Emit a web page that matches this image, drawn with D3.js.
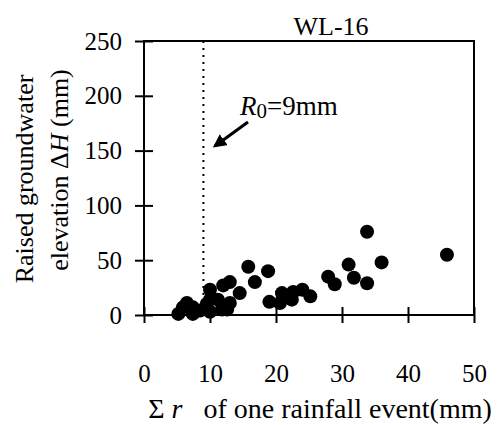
<!DOCTYPE html>
<html>
<head>
<meta charset="utf-8">
<script src="https://cdn.jsdelivr.net/npm/d3@7"></script>
<style>
  body { margin: 0; background: #fff; }
  svg { display: block; }
  text { font-family: "Liberation Serif", "Times New Roman", serif; fill: #000; }
  .axis .domain { display: none; }
  .axis line { stroke: #000; stroke-width: 2; }
</style>
</head>
<body>
<div class="chart"></div>
<script>
// event rainfall sum (mm) and groundwater rise (mm)
var rainSum = [5.2, 5.9, 6.5, 7.4, 7.4, 8.5, 9.5, 10, 10, 10, 11.2, 11.8, 12, 12.6, 13, 13, 14.5,
               15.8, 16.8, 18.8, 19, 20.6, 20.9, 22.4, 22.6, 24, 25.2, 27.9, 28.9, 31, 31.8,
               33.8, 33.8, 36, 45.9];
var riseH   = [1, 7, 11, 7, 1, 4, 10, 23, 14, 3, 14, 5, 27, 5, 30, 11, 20,
               44, 30, 40, 12, 11, 20, 14, 21, 23, 17, 35, 28, 46, 34,
               76, 29, 48, 55];
var xTicks = [0, 10, 20, 30, 40, 50];
var yTicks = [0, 50, 100, 150, 200, 250];
var thresholdR0 = 9;

var serif = "'Liberation Serif', 'Times New Roman', serif";

var margin = {top: 41, right: 23, bottom: 110, left: 144},
    width = 497 - margin.left - margin.right,
    height = 425 - margin.top - margin.bottom;

var svg = d3.select(".chart").append("svg")
    .attr("width", 497)
    .attr("height", 425);

var g = svg.append("g")
    .attr("transform", "translate(" + margin.left + "," + margin.top + ")");

var x = d3.scaleLinear().domain([0, 50]).range([0, width]);
var y = d3.scaleLinear().domain([0, 250]).range([height, 0]);

// frame
g.append("rect")
    .attr("width", width)
    .attr("height", height)
    .attr("fill", "none")
    .attr("stroke", "#000")
    .attr("stroke-width", 2);

// ticks cross the axis line on both sides
var xAxis = g.append("g")
    .attr("class", "axis")
    .attr("transform", "translate(0," + height + ")")
    .call(d3.axisBottom(x).tickValues(xTicks).tickSize(8).tickPadding(41))
    .attr("font-family", serif)
    .attr("font-size", 25);
xAxis.selectAll(".tick line").attr("y1", -8);

var yAxis = g.append("g")
    .attr("class", "axis")
    .call(d3.axisLeft(y).tickValues(yTicks).tickSize(9).tickPadding(13))
    .attr("font-family", serif)
    .attr("font-size", 25);
yAxis.selectAll(".tick line").attr("x1", 9);

// R0 threshold
g.append("line")
    .attr("x1", x(thresholdR0)).attr("x2", x(thresholdR0))
    .attr("y1", 0).attr("y2", height)
    .attr("stroke", "#000")
    .attr("stroke-width", 2)
    .attr("stroke-dasharray", "2,5");

g.append("g")
    .selectAll("circle")
    .data(rainSum.map(function(d, i) { return [d, riseH[i]]; }))
    .enter().append("circle")
    .attr("cx", function(d) { return x(d[0]); })
    .attr("cy", function(d) { return y(d[1]); })
    .attr("r", 7)
    .attr("fill", "#000");

// annotation
svg.append("defs").append("marker")
    .attr("id", "arrow")
    .attr("viewBox", "0 0 10 10")
    .attr("refX", 8).attr("refY", 5)
    .attr("markerWidth", 4.5).attr("markerHeight", 4.5)
    .attr("orient", "auto")
  .append("path")
    .attr("d", "M0,0L10,5L0,10z")
    .attr("fill", "#000");

svg.append("line")
    .attr("x1", 248).attr("y1", 122)
    .attr("x2", 215).attr("y2", 146)
    .attr("stroke", "#000")
    .attr("stroke-width", 3)
    .attr("marker-end", "url(#arrow)");

var ann = svg.append("text")
    .attr("x", 240).attr("y", 115)
    .attr("font-size", 27);
ann.append("tspan").attr("font-style", "italic").text("R");
ann.append("tspan").attr("font-size", 21).attr("dy", 3).text("0");
ann.append("tspan").attr("dy", -3).text("=9mm");

// title
svg.append("text")
    .attr("x", 331).attr("y", 35)
    .attr("text-anchor", "middle")
    .attr("font-size", 26)
    .text("WL-16");

// axis titles
var xl = svg.append("text")
    .attr("x", 320).attr("y", 418)
    .attr("text-anchor", "middle")
    .attr("font-size", 28)
    .attr("xml:space", "preserve");
xl.append("tspan").text("\u03A3 ");
xl.append("tspan").attr("font-style", "italic").text("r");
xl.append("tspan").text("   of one rainfall event(mm)");

svg.append("text")
    .attr("transform", "translate(33,179) rotate(-90)")
    .attr("text-anchor", "middle")
    .attr("font-size", 26)
    .text("Raised groundwater");

var yl2 = svg.append("text")
    .attr("transform", "translate(68,170) rotate(-90)")
    .attr("text-anchor", "middle")
    .attr("font-size", 26);
yl2.append("tspan").text("elevation \u0394");
yl2.append("tspan").attr("font-style", "italic").text("H");
yl2.append("tspan").text(" (mm)");
</script>
</body>
</html>
